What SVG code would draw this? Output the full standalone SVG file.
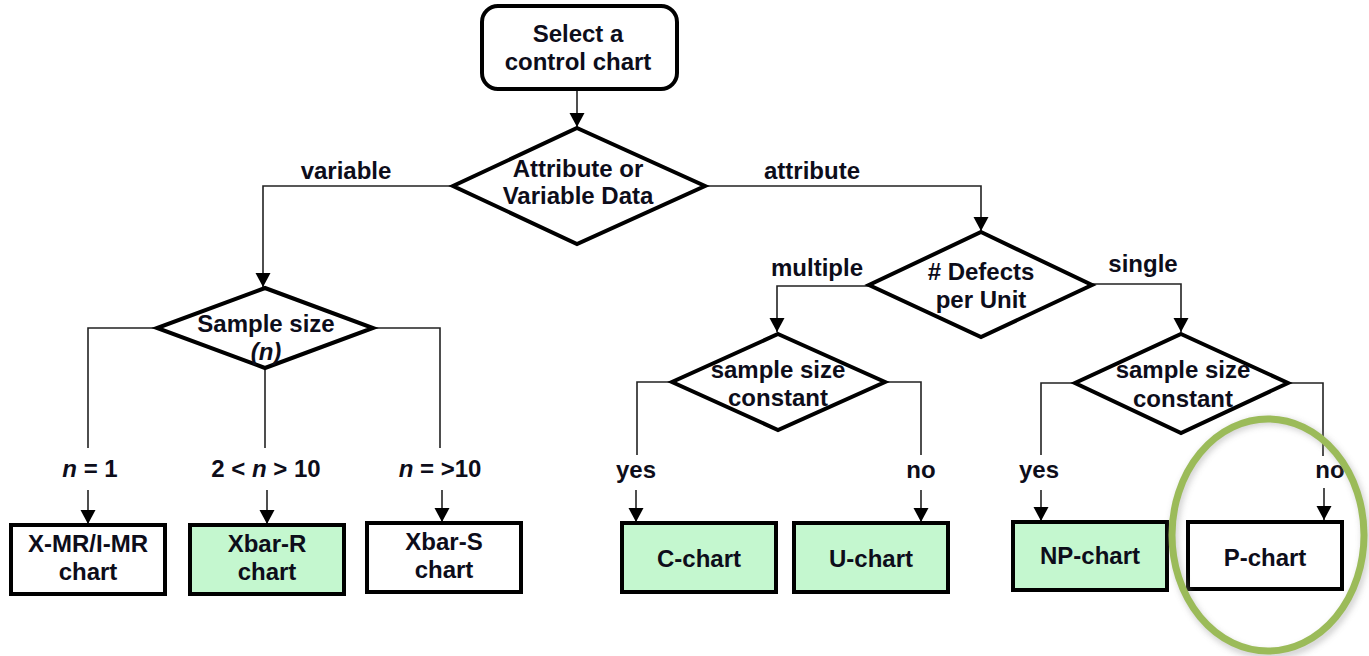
<svg xmlns="http://www.w3.org/2000/svg" width="1369" height="656" viewBox="0 0 1369 656">
<style>
text{font-family:"Liberation Sans",Arial,sans-serif;font-weight:bold;font-size:24px;fill:#0d0d1a;text-anchor:middle}
.i{font-style:italic}
.shape{stroke:#000;stroke-width:4;fill:#fff}
.green{fill:#c4f7cf}
.conn{stroke:#222;stroke-width:1.6;fill:none}
</style>
<defs>
<marker id="ah" markerUnits="userSpaceOnUse" markerWidth="16" markerHeight="16" refX="14" refY="7.5" orient="auto">
<path d="M0,0 L14,7.5 L0,15 Z" fill="#000"/>
</marker>
<filter id="sh" x="-20%" y="-20%" width="140%" height="140%">
<feGaussianBlur stdDeviation="3"/>
</filter>
</defs>
<rect width="1369" height="656" fill="#fff"/>
<g id="connectors">
<path class="conn" d="M577,89 V127" marker-end="url(#ah)"/>
<path class="conn" d="M453,186 H263 V287" marker-end="url(#ah)"/>
<path class="conn" d="M705,186 H981 V231" marker-end="url(#ah)"/>
<path class="conn" d="M869,286 H777 V332" marker-end="url(#ah)"/>
<path class="conn" d="M1092,284 H1181 V332" marker-end="url(#ah)"/>
<path class="conn" d="M157,328 H88 V448"/>
<path class="conn" d="M88,490 V524" marker-end="url(#ah)"/>
<path class="conn" d="M265,368 V448"/>
<path class="conn" d="M267,490 V524" marker-end="url(#ah)"/>
<path class="conn" d="M373,328 H440 V448"/>
<path class="conn" d="M442,490 V522" marker-end="url(#ah)"/>
<path class="conn" d="M672,382 H637 V455"/>
<path class="conn" d="M636,490 V522" marker-end="url(#ah)"/>
<path class="conn" d="M885,382 H921 V455"/>
<path class="conn" d="M921,490 V522" marker-end="url(#ah)"/>
<path class="conn" d="M1075,383 H1041 V455"/>
<path class="conn" d="M1041,490 V521" marker-end="url(#ah)"/>
<path class="conn" d="M1288,383 H1323 V456"/>
<path class="conn" d="M1324,488 V520" marker-end="url(#ah)"/>
<text x="346" y="179">variable</text>
<text x="812" y="179">attribute</text>
<text x="817" y="276">multiple</text>
<text x="1143" y="272">single</text>
<text x="90" y="477"><tspan class="i">n</tspan> = 1</text>
<text x="266" y="477">2 &lt; <tspan class="i">n</tspan> &gt; 10</text>
<text x="440" y="477"><tspan class="i">n</tspan> = &gt;10</text>
<text x="636" y="478">yes</text>
<text x="921" y="478">no</text>
<text x="1039" y="478">yes</text>
<text x="1330" y="478">no</text>
</g>
<g id="start">
<rect class="shape" x="482" y="6" width="195" height="83" rx="16"/>
<text x="578" y="42">Select a</text>
<text x="578" y="70">control chart</text>
</g>
<g id="d-data">
<polygon class="shape" points="577,128 705,186 577,244 453,186"/>
<text x="578" y="177">Attribute or</text>
<text x="578" y="204">Variable Data</text>
</g>
<g id="d-sample">
<polygon class="shape" points="265,288 373,328 265,368 157,328"/>
<text x="266" y="332">Sample size</text>
<text x="266" y="360" class="i">(n)</text>
</g>
<g id="d-defects">
<polygon class="shape" points="981,232 1092,285 981,337 869,285"/>
<text x="981" y="280"># Defects</text>
<text x="981" y="308">per Unit</text>
</g>
<g id="d-multi">
<polygon class="shape" points="778,334 885,382 778,430 672,382"/>
<text x="778" y="378">sample size</text>
<text x="778" y="406">constant</text>
</g>
<g id="d-single">
<polygon class="shape" points="1181,334 1288,383 1181,433 1075,383"/>
<text x="1183" y="378">sample size</text>
<text x="1183" y="407">constant</text>
</g>
<g id="b-xmr">
<rect class="shape" x="11" y="525" width="154" height="69"/>
<text x="88" y="552">X-MR/I-MR</text>
<text x="88" y="580">chart</text>
</g>
<g id="b-xbarr">
<rect class="shape green" x="190" y="525" width="154" height="69"/>
<text x="267" y="552">Xbar-R</text>
<text x="267" y="580">chart</text>
</g>
<g id="b-xbars">
<rect class="shape" x="367" y="523" width="154" height="69"/>
<text x="444" y="550">Xbar-S</text>
<text x="444" y="578">chart</text>
</g>
<g id="b-c">
<rect class="shape green" x="622" y="523" width="154" height="69"/>
<text x="699" y="567">C-chart</text>
</g>
<g id="b-u">
<rect class="shape green" x="794" y="523" width="154" height="69"/>
<text x="871" y="567">U-chart</text>
</g>
<g id="b-np">
<rect class="shape green" x="1013" y="522" width="154" height="68"/>
<text x="1090" y="564">NP-chart</text>
</g>
<g id="b-p">
<rect class="shape" x="1188" y="522" width="154" height="67"/>
<text x="1265" y="566">P-chart</text>
</g>
<g id="highlight">
<ellipse cx="1270" cy="538" rx="96" ry="117" fill="none" stroke="#999" stroke-width="8" opacity="0.45" filter="url(#sh)"/>
<ellipse cx="1268" cy="535" rx="96" ry="116" fill="none" stroke="#9bbb59" stroke-width="7"/>
</g>
</svg>
